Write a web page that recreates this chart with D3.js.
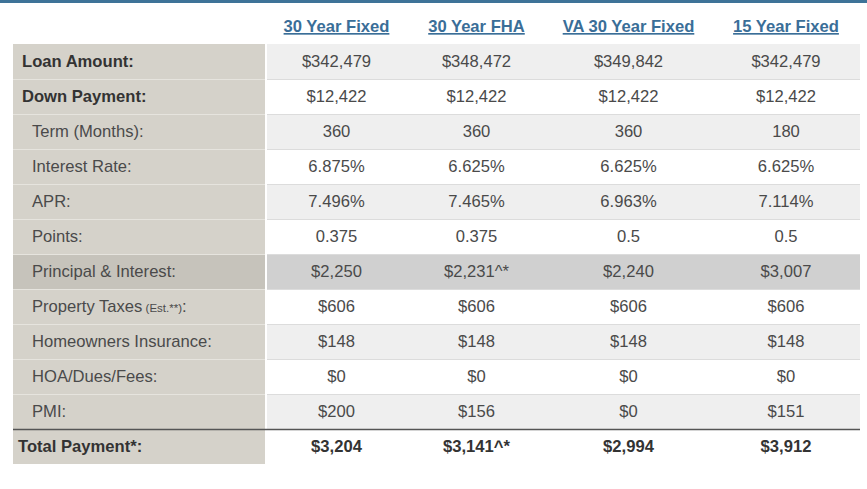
<!DOCTYPE html>
<html><head><meta charset="utf-8">
<script src="https://cdn.jsdelivr.net/npm/d3@7"></script>
<style>html,body{margin:0;padding:0;background:#fff;}svg{display:block;font-family:Arial,"Liberation Sans",sans-serif;}</style>
</head><body>
<svg id="c" width="867" height="489"></svg>
<script>
const plans = ["30 Year Fixed", "30 Year FHA", "VA 30 Year Fixed", "15 Year Fixed"];
const rowLabels = ["Loan Amount:", "Down Payment:", "Term (Months):", "Interest Rate:", "APR:", "Points:",
  "Principal & Interest:", "Property Taxes", "Homeowners Insurance:", "HOA/Dues/Fees:", "PMI:", "Total Payment*:"];
const fixed30 = ["$342,479", "$12,422", "360", "6.875%", "7.496%", "0.375", "$2,250", "$606", "$148", "$0", "$200", "$3,204"];
const fha30 = ["$348,472", "$12,422", "360", "6.625%", "7.465%", "0.375", "$2,231^*", "$606", "$148", "$0", "$156", "$3,141^*"];
const va30 = ["$349,842", "$12,422", "360", "6.625%", "6.963%", "0.5", "$2,240", "$606", "$148", "$0", "$0", "$2,994"];
const fixed15 = ["$342,479", "$12,422", "180", "6.625%", "7.114%", "0.5", "$3,007", "$606", "$148", "$0", "$151", "$3,912"];
const series = [fixed30, fha30, va30, fixed15];

const svg = d3.select("#c");
svg.append("rect").attr("x",0).attr("y",0).attr("width",867).attr("height",3).attr("fill","#3e7398");

const colEdges = [265, 408, 545, 712, 860];
const x = d3.scaleOrdinal().domain(plans).range(plans.map((p,i)=>(colEdges[i]+colEdges[i+1])/2));
const y = d3.scaleBand().domain(d3.range(rowLabels.length)).range([44, 464]).padding(0);
const rh = y.bandwidth();
const FS = 16.6;

const labG = svg.append("g");
rowLabels.forEach((lab,i)=>{
  labG.append("rect").attr("x",13).attr("y",y(i)).attr("width",252).attr("height",rh)
    .attr("fill", i===6 ? "#c6c3bb" : "#d5d2ca");
  if(i>0 && i<11) labG.append("line").attr("x1",13).attr("x2",265).attr("y1",y(i)+0.5).attr("y2",y(i)+0.5).attr("stroke","#e6e4de");
});
rowLabels.forEach((lab,i)=>{
  let fill = "#ffffff";
  if(i===6) fill="#d0d0d0";
  else if(i<11 && i%2===0) fill="#efefef";
  svg.append("rect").attr("x",267).attr("y",y(i)).attr("width",593).attr("height",rh).attr("fill",fill);
  if(i>0 && i<11) svg.append("line").attr("x1",267).attr("x2",860).attr("y1",y(i)+0.5).attr("y2",y(i)+0.5).attr("stroke","#dcdcdc");
});
svg.append("line").attr("x1",13).attr("x2",860).attr("y1",y(11)+0.5).attr("y2",y(11)+0.5).attr("stroke","#555").attr("stroke-width",1.3);

svg.append("g").selectAll("text").data(plans).join("text")
  .attr("x",d=>x(d)).attr("y",32).attr("text-anchor","middle")
  .attr("font-size",FS).attr("font-weight","bold").attr("fill","#3a6e98")
  .attr("text-decoration","underline").text(d=>d);

rowLabels.forEach((lab,i)=>{
  const bold = i<2 || i===11;
  const t = svg.append("text").attr("x", i<2 ? 22 : (i===11 ? 18 : 32)).attr("y", y(i)+rh/2+5.5)
    .attr("font-size", FS).attr("font-weight", bold?"bold":"normal")
    .attr("fill", bold?"#333":"#4a4a4a").text(lab);
  if(i===7){
    t.append("tspan").attr("font-size",11.5).text(" (Est.**)");
    t.append("tspan").text(":");
  }
});

series.forEach((vals,j)=>{
  vals.forEach((v,i)=>{
    const bold = i===11;
    svg.append("text").attr("x", x(plans[j])).attr("y", y(i)+rh/2+5.5).attr("text-anchor","middle")
      .attr("font-size", FS).attr("font-weight", bold?"bold":"normal")
      .attr("fill", bold?"#333":"#4a4a4a").text(v);
  });
});
</script>
</body></html>
